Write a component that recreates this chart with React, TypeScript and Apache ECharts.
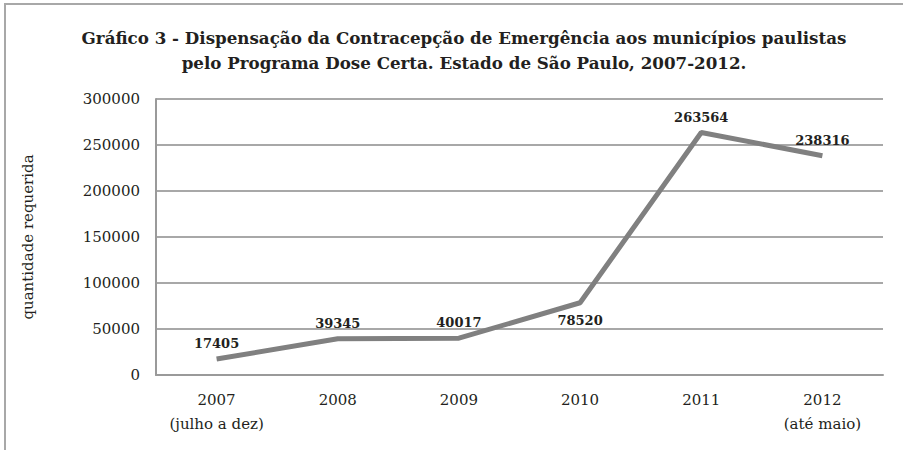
import React, { useEffect, useRef } from "react";
import * as echarts from "echarts";

const categories = ["2007\n(julho a dez)", "2008", "2009", "2010", "2011", "2012\n(até maio)"];
const values = [17405, 39345, 40017, 78520, 263564, 238316];
const labelBelow = [false, false, false, true, false, false];
const titleLines = [
  "Gráfico 3 - Dispensação da Contracepção de Emergência aos municípios paulistas",
  "pelo Programa Dose Certa. Estado de São Paulo, 2007-2012.",
];
const yAxisName = "quantidade requerida";

const FONT = "'DejaVu Serif', 'Liberation Serif', serif";

export default function App() {
  const ref = useRef<HTMLDivElement>(null);
  useEffect(() => {
    document.body.style.margin = "0";
    const chart = echarts.init(ref.current!, undefined, { renderer: "svg" });
    chart.setOption({
      animation: false,
      backgroundColor: "#ffffff",
      title: {
        text: titleLines.join("\n"),
        left: 459,
        textAlign: "center",
        top: 20,
        textStyle: { fontFamily: FONT, fontWeight: "bold", fontSize: 16.7, lineHeight: 25, color: "#231f20" },
      },
      graphic: [
        {
          type: "rect",
          shape: { x: 5, y: 4, width: 1000, height: 1000 },
          style: { fill: "none", stroke: "#a8a8a8", lineWidth: 2 },
          silent: true,
        },
      ],
      grid: { left: 156, right: 20, top: 99, bottom: 75, containLabel: false },
      xAxis: {
        type: "category",
        data: categories,
        boundaryGap: true,
        axisLine: { show: true, lineStyle: { color: "#9a9a9a", width: 2 } },
        axisTick: { show: false },
        axisLabel: { interval: 0, fontFamily: FONT, fontSize: 15, color: "#231f20", lineHeight: 24, margin: 13 },
      },
      yAxis: {
        type: "value",
        min: 0,
        max: 300000,
        interval: 50000,
        name: yAxisName,
        nameLocation: "middle",
        nameGap: 121,
        nameRotate: 90,
        nameTextStyle: { fontFamily: FONT, fontSize: 15, color: "#231f20" },
        axisLine: { show: true, lineStyle: { color: "#9a9a9a", width: 2 } },
        axisTick: { show: false },
        axisLabel: {
          fontFamily: FONT,
          fontSize: 15,
          color: "#231f20",
          margin: 16,
          formatter: (v: number) => String(v),
        },
        splitLine: { show: true, lineStyle: { color: "#a8a8a8", width: 2 } },
      },
      series: [
        {
          type: "line",
          data: values.map((v, i) => ({
            value: v,
            label: { position: labelBelow[i] ? "bottom" : "top", distance: labelBelow[i] ? 10 : 8 },
          })),
          symbol: "circle",
          symbolSize: 2,
          showSymbol: true,
          itemStyle: { color: "rgba(128,128,128,0)" },
          lineStyle: { color: "#808080", width: 5 },
          label: {
            show: true,
            fontFamily: FONT,
            fontWeight: "bold",
            fontSize: 13,
            color: "#231f20",
            opacity: 1,
          },
        },
      ],
    });
    return () => chart.dispose();
  }, []);
  return <div ref={ref} style={{ width: 903, height: 450 }} />;
}
